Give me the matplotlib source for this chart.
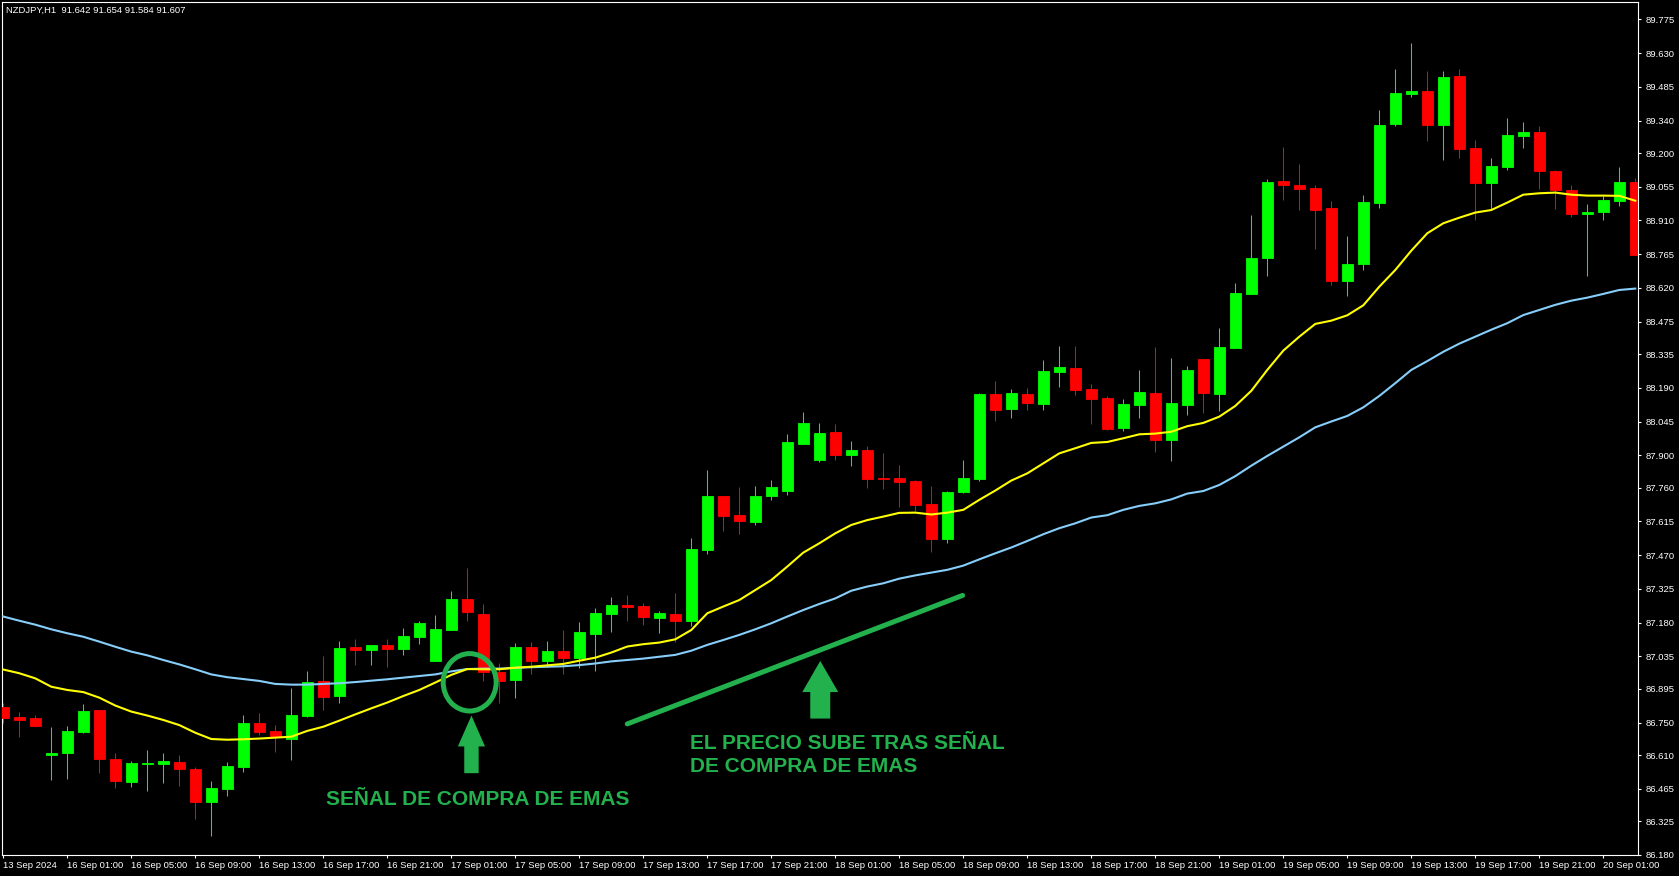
import numpy as np
import matplotlib.pyplot as plt
from matplotlib.patches import Ellipse, FancyArrow

# -----------------------------
# Data: NZDJPY H1 candles
# -----------------------------
opens = [
    86.818, 86.774, 86.770, 86.612, 86.620, 86.711, 86.804, 86.593, 86.496, 86.573,
    86.573, 86.580, 86.550, 86.409, 86.465, 86.560, 86.748, 86.714, 86.681, 86.780,
    86.929, 86.866, 87.075, 87.064, 87.082, 87.068, 87.119, 87.016, 87.150, 87.282,
    87.217, 86.969, 86.934, 87.075, 87.016, 87.058, 87.029, 87.132, 87.218, 87.254,
    87.252, 87.200, 87.217, 87.187, 87.492, 87.725, 87.643, 87.614, 87.726, 87.748,
    87.950, 87.881, 88.000, 87.903, 87.923, 87.802, 87.802, 87.789, 87.690, 87.540,
    87.742, 87.798, 88.164, 88.101, 88.164, 88.122, 88.260, 88.276, 88.185, 88.147,
    88.019, 88.118, 88.168, 87.967, 88.118, 88.314, 88.165, 88.363, 88.595, 88.750,
    89.080, 89.063, 89.050, 88.964, 88.651, 88.724, 88.987, 89.323, 89.456, 89.467,
    89.321, 89.532, 89.222, 89.072, 89.140, 89.274, 89.291, 89.123, 89.041, 88.938,
    88.947, 88.994, 89.076,
]
highs = [
    86.833, 86.795, 86.782, 86.731, 86.735, 86.830, 86.804, 86.617, 86.585, 86.632,
    86.619, 86.610, 86.557, 86.498, 86.580, 86.782, 86.791, 86.739, 86.899, 86.972,
    87.036, 87.101, 87.109, 87.082, 87.109, 87.155, 87.187, 87.213, 87.316, 87.415,
    87.260, 87.006, 87.092, 87.097, 87.101, 87.148, 87.183, 87.243, 87.290, 87.299,
    87.264, 87.230, 87.307, 87.544, 87.837, 87.725, 87.764, 87.768, 87.794, 87.992,
    88.086, 88.039, 88.035, 87.961, 87.940, 87.910, 87.858, 87.794, 87.768, 87.746,
    87.880, 88.168, 88.220, 88.185, 88.190, 88.310, 88.370, 88.370, 88.207, 88.155,
    88.142, 88.267, 88.366, 88.319, 88.284, 88.314, 88.448, 88.641, 88.934, 89.089,
    89.227, 89.153, 89.063, 88.994, 88.844, 89.020, 89.386, 89.562, 89.674, 89.554,
    89.554, 89.562, 89.257, 89.179, 89.351, 89.334, 89.317, 89.128, 89.063, 88.981,
    89.016, 89.140, 89.093,
]
lows = [
    86.749, 86.689, 86.737, 86.504, 86.508, 86.704, 86.534, 86.470, 86.474, 86.457,
    86.491, 86.478, 86.336, 86.263, 86.435, 86.539, 86.698, 86.625, 86.589, 86.775,
    86.804, 86.835, 86.999, 86.999, 86.990, 87.042, 87.089, 87.016, 87.150, 87.188,
    86.930, 86.836, 86.857, 86.960, 86.990, 86.960, 86.986, 86.973, 87.141, 87.188,
    87.171, 87.137, 87.098, 87.165, 87.477, 87.574, 87.561, 87.601, 87.709, 87.731,
    87.950, 87.873, 87.881, 87.855, 87.761, 87.756, 87.679, 87.660, 87.484, 87.523,
    87.738, 87.789, 88.048, 88.062, 88.096, 88.096, 88.195, 88.161, 88.036, 88.010,
    88.006, 88.062, 87.916, 87.877, 88.075, 88.083, 88.092, 88.363, 88.595, 88.669,
    89.000, 88.957, 88.789, 88.634, 88.587, 88.699, 88.965, 89.318, 89.443, 89.252,
    89.171, 89.179, 88.912, 88.955, 89.128, 89.222, 89.046, 88.960, 88.925, 88.671,
    88.912, 88.973, 88.762,
]
closes = [
    86.771, 86.762, 86.737, 86.620, 86.714, 86.800, 86.595, 86.500, 86.576, 86.577,
    86.585, 86.550, 86.409, 86.468, 86.563, 86.748, 86.711, 86.689, 86.782, 86.924,
    86.861, 87.071, 87.064, 87.082, 87.068, 87.122, 87.178, 87.152, 87.282, 87.227,
    86.969, 86.930, 87.075, 87.016, 87.058, 87.029, 87.140, 87.221, 87.256, 87.249,
    87.204, 87.221, 87.187, 87.497, 87.725, 87.640, 87.619, 87.725, 87.764, 87.957,
    88.039, 87.996, 87.903, 87.923, 87.799, 87.797, 87.786, 87.686, 87.540, 87.742,
    87.802, 88.164, 88.096, 88.168, 88.126, 88.263, 88.280, 88.182, 88.144, 88.015,
    88.121, 88.172, 87.967, 88.125, 88.267, 88.168, 88.366, 88.598, 88.749, 89.076,
    89.064, 89.046, 88.957, 88.651, 88.723, 88.990, 89.321, 89.459, 89.467, 89.321,
    89.528, 89.218, 89.072, 89.145, 89.278, 89.291, 89.123, 89.041, 88.938, 88.947,
    88.998, 89.076, 88.762,
]
ema_fast = [
    86.978, 86.962, 86.940, 86.904, 86.890, 86.881, 86.857, 86.823, 86.797, 86.780,
    86.761, 86.739, 86.706, 86.679, 86.676, 86.678, 86.681, 86.685, 86.689, 86.714,
    86.732, 86.758, 86.785, 86.811, 86.836, 86.864, 86.890, 86.922, 86.955, 86.980,
    86.979, 86.979, 86.986, 86.990, 86.996, 87.002, 87.016, 87.029, 87.051, 87.077,
    87.087, 87.094, 87.108, 87.148, 87.220, 87.249, 87.277, 87.320, 87.363, 87.421,
    87.481, 87.521, 87.564, 87.600, 87.621, 87.636, 87.652, 87.653, 87.645, 87.653,
    87.665, 87.708, 87.748, 87.791, 87.822, 87.865, 87.908, 87.930, 87.953, 87.957,
    87.973, 87.990, 87.993, 88.001, 88.025, 88.039, 88.066, 88.112, 88.177, 88.267,
    88.350, 88.410, 88.465, 88.479, 88.502, 88.545, 88.625, 88.697, 88.780, 88.855,
    88.898, 88.922, 88.944, 88.955, 88.987, 89.021, 89.027, 89.030, 89.021, 89.017,
    89.017, 89.016, 88.995,
]
ema_slow = [
    87.206, 87.188, 87.171, 87.151, 87.134, 87.119, 87.098, 87.076, 87.055, 87.039,
    87.019, 87.000, 86.979, 86.957, 86.945, 86.937, 86.929, 86.916, 86.913, 86.913,
    86.916, 86.919, 86.924, 86.930, 86.936, 86.943, 86.950, 86.957, 86.970, 86.980,
    86.982, 86.982, 86.985, 86.988, 86.990, 86.992, 86.997, 87.004, 87.013, 87.019,
    87.025, 87.033, 87.041, 87.059, 87.084, 87.105, 87.127, 87.151, 87.177, 87.206,
    87.234, 87.260, 87.284, 87.317, 87.335, 87.349, 87.369, 87.383, 87.395, 87.407,
    87.425, 87.452, 87.478, 87.503, 87.531, 87.560, 87.586, 87.607, 87.632, 87.642,
    87.665, 87.682, 87.693, 87.710, 87.735, 87.746, 87.772, 87.810, 87.855, 87.897,
    87.937, 87.977, 88.020, 88.045, 88.069, 88.106, 88.155, 88.210, 88.267, 88.305,
    88.345, 88.380, 88.410, 88.440, 88.468, 88.503, 88.525, 88.547, 88.565, 88.578,
    88.594, 88.611, 88.617,
]

xtick_labels = [
    "13 Sep 2024", "16 Sep 01:00", "16 Sep 05:00", "16 Sep 09:00", "16 Sep 13:00",
    "16 Sep 17:00", "16 Sep 21:00", "17 Sep 01:00", "17 Sep 05:00", "17 Sep 09:00",
    "17 Sep 13:00", "17 Sep 17:00", "17 Sep 21:00", "18 Sep 01:00", "18 Sep 05:00",
    "18 Sep 09:00", "18 Sep 13:00", "18 Sep 17:00", "18 Sep 21:00", "19 Sep 01:00",
    "19 Sep 05:00", "19 Sep 09:00", "19 Sep 13:00", "19 Sep 17:00", "19 Sep 21:00",
    "20 Sep 01:00",
]
ytick_values = [
    89.775, 89.630, 89.485, 89.340, 89.200, 89.055, 88.910, 88.765, 88.620, 88.475,
    88.335, 88.190, 88.045, 87.900, 87.760, 87.615, 87.470, 87.325, 87.180, 87.035,
    86.895, 86.750, 86.610, 86.465, 86.325, 86.180,
]
title_text = "NZDJPY,H1  91.642 91.654 91.584 91.607"
signal_text = "SEÑAL DE COMPRA DE EMAS"
rise_text = ["EL PRECIO SUBE TRAS SEÑAL", "DE COMPRA DE EMAS"]

# -----------------------------
# Style
# -----------------------------
plt.rcParams["font.family"] = ["Liberation Sans", "DejaVu Sans"]
UP, DOWN = "#00ff00", "#ff0000"
MARK = "#22b14c"
W, H = 1679, 876

fig = plt.figure(figsize=(W / 100, H / 100), dpi=100, facecolor="black")
ax = fig.add_axes([2 / W, 21 / H, 1636 / W, 853 / H], facecolor="black")

# -----------------------------
# Candles
# -----------------------------
o = np.array(opens)
h = np.array(highs)
l = np.array(lows)
c = np.array(closes)
x = np.arange(len(o))
colors = np.where(c >= o, UP, DOWN)

ax.vlines(x, l, h, colors=colors, lw=0.75, zorder=2)
ax.bar(x, np.abs(c - o), bottom=np.minimum(o, c), width=0.66,
       color=colors, edgecolor=colors, lw=0.6, zorder=3)

ax.plot(x, ema_slow, color="#87cefa", lw=1.5, zorder=4)
ax.plot(x, ema_fast, color="#ffff00", lw=1.5, zorder=4)

# -----------------------------
# Annotations
# -----------------------------
ax.add_patch(Ellipse((29.15, 86.923), 3.31, 0.247, fill=False,
                     edgecolor=MARK, lw=3.6, zorder=6))
ax.add_patch(FancyArrow(29.26, 86.532, 0, 0.248, width=0.9, head_width=1.7,
                        head_length=0.133, length_includes_head=True,
                        color=MARK, lw=0, zorder=6))
ax.add_patch(FancyArrow(51.06, 86.767, 0, 0.248, width=1.25, head_width=2.25,
                        head_length=0.134, length_includes_head=True,
                        color=MARK, lw=0, zorder=6))
ax.plot([39.0, 59.96], [86.744, 87.297], color=MARK, lw=3.6,
        solid_capstyle="round", zorder=6)

ax.text(20.14, 86.394, signal_text, color=MARK, fontsize=15,
        fontweight="bold", ha="left", va="baseline", zorder=7)
ax.text(42.89, 86.638, rise_text[0], color=MARK, fontsize=15,
        fontweight="bold", ha="left", va="baseline", zorder=7)
ax.text(42.89, 86.537, rise_text[1], color=MARK, fontsize=15,
        fontweight="bold", ha="left", va="baseline", zorder=7)

# -----------------------------
# Axes
# -----------------------------
ax.set_xlim(-0.081, 102.17)
ax.set_ylim(86.18, 89.85)

for s in ax.spines.values():
    s.set_color("white")
    s.set_linewidth(0.8)

ax.yaxis.tick_right()
ax.set_yticks(ytick_values)
ax.set_yticklabels([f"{v:.3f}" for v in ytick_values])
ax.set_xticks(x[::4][:len(xtick_labels)])
ax.set_xticklabels(xtick_labels, ha="left")
ax.tick_params(axis="both", colors="white", labelcolor="white", labelsize=6.8,
               length=2.5, width=0.8, direction="out")
ax.tick_params(axis="y", pad=3)
ax.tick_params(axis="x", pad=2)

fig.text(6.4 / W, 1 - 10.7 / H, title_text, color="white", fontsize=6.8,
         ha="left", va="center")

fig.savefig("out.png", dpi=100, facecolor="black")
